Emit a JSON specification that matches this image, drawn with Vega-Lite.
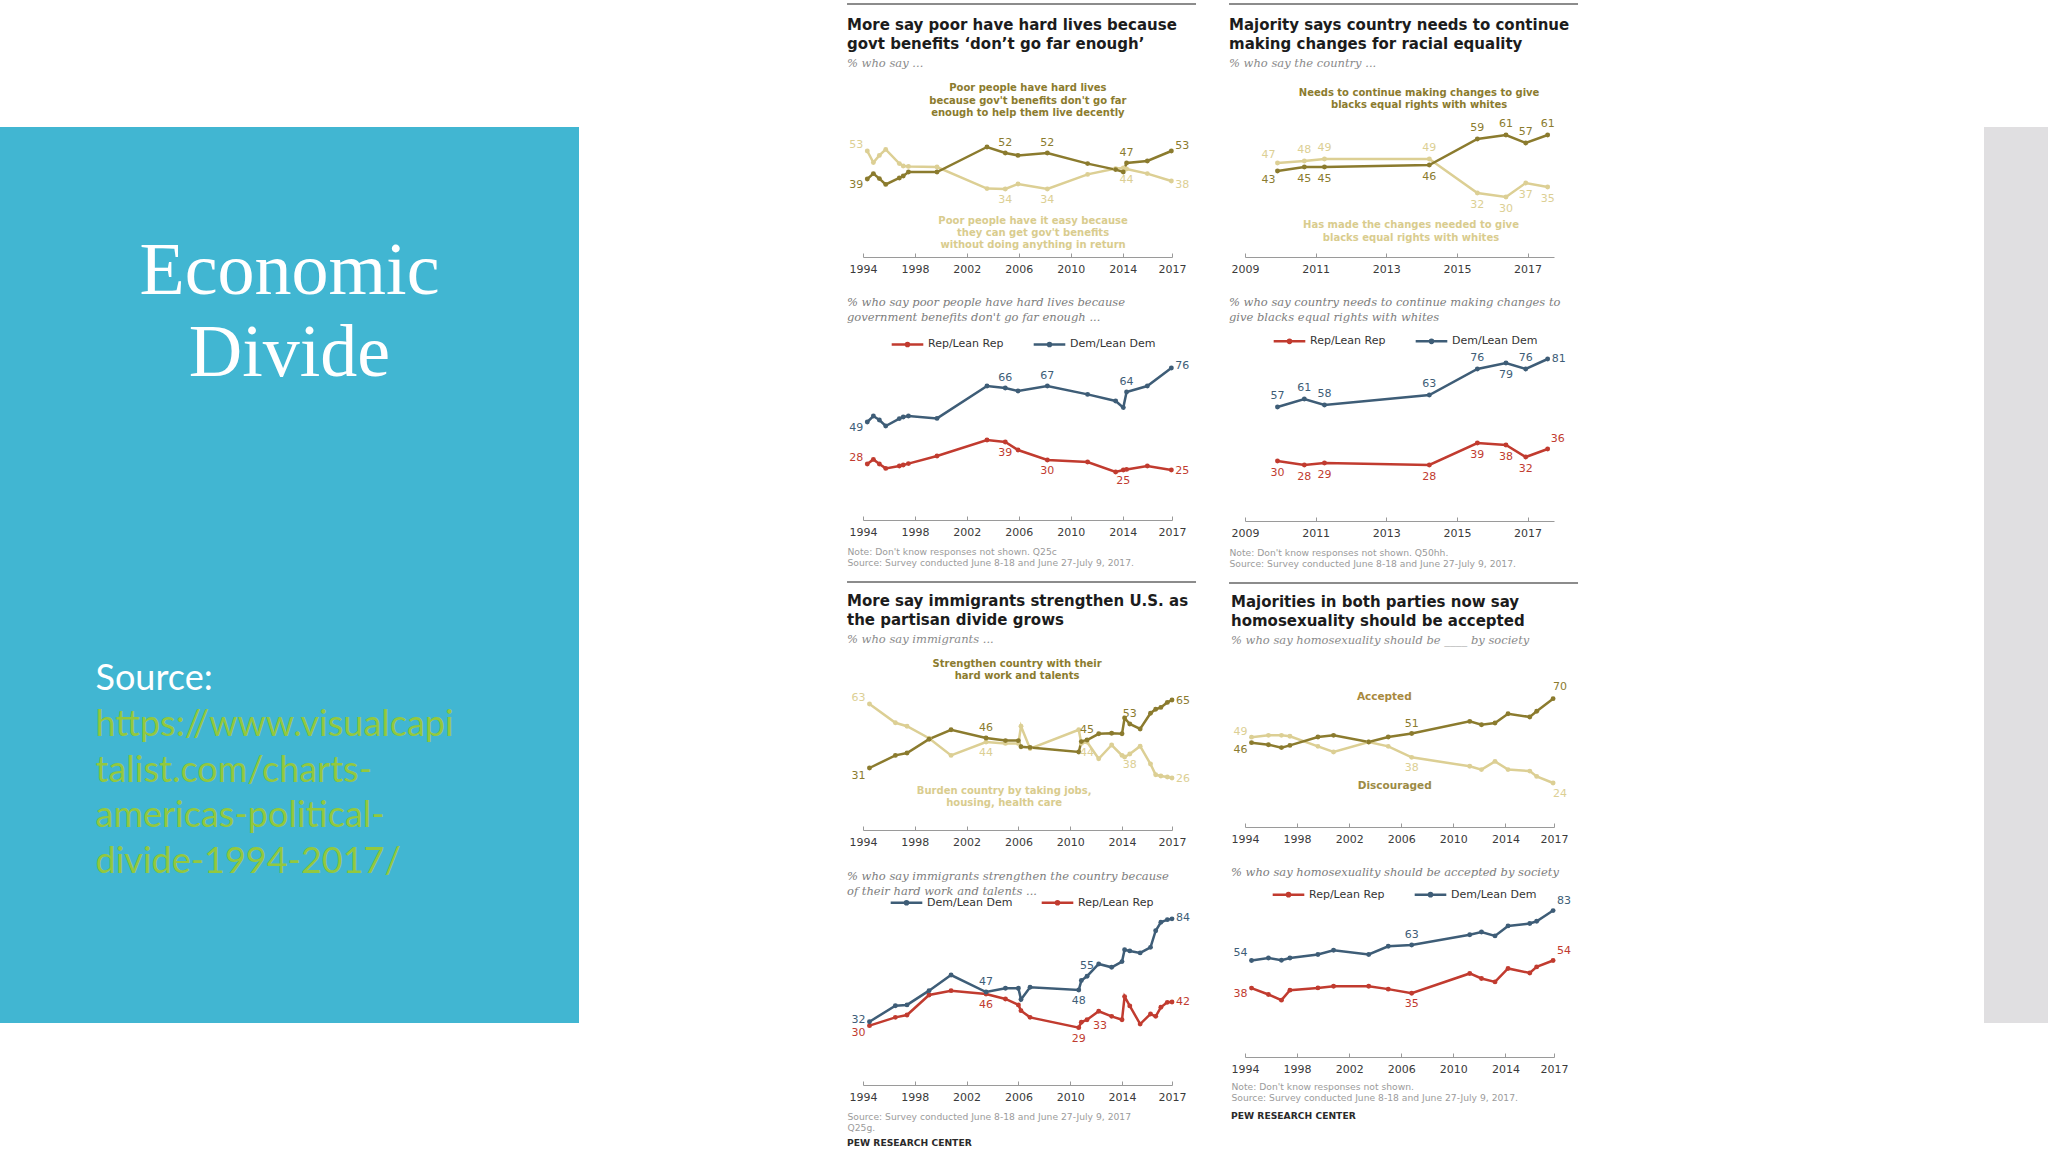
{
"$schema":"https://vega.github.io/schema/vega-lite/v6.json",
"background":"#ffffff",
"padding":0,
"config":{
 "view":{"stroke":null},
 "concat":{"spacing":0},
 "title":{"anchor":"start","frame":"group","dx":-16,"font":"DejaVu Sans","fontSize":15,"fontWeight":"bold","color":"#1c1c1c","lineHeight":18.8,"subtitleFont":"DejaVu Serif","subtitleFontStyle":"italic","subtitleFontSize":11.5,"subtitleColor":"#8a8a8a","subtitlePadding":5.7,"offset":8},
 "axis":{"domainColor":"#9a9a9a","domainWidth":1,"tickColor":"#9a9a9a","tickSize":-4,"tickWidth":1,"labelFont":"DejaVu Sans","labelFontSize":11,"labelColor":"#3a3a3a","labelPadding":10,"labelFlush":false,"labelOverlap":false,"grid":false,"titleFont":"DejaVu Sans","titleFontSize":9.2,"titleFontWeight":"normal","titleColor":"#9b9b9b","titleAnchor":"start","titleAlign":"left","titleBaseline":"top","titleLineHeight":11.3,"titleX":-16},
 "legend":{"symbolType":"M-1,0H1M-0.1,0A0.1,0.1,0,1,0,0.1,0A0.1,0.1,0,1,0,-0.1,0","symbolSize":1000,"symbolStrokeWidth":2.5,"labelFont":"DejaVu Sans","labelFontSize":11,"labelColor":"#333333","labelOffset":3,"columnPadding":24},
 "text":{"font":"DejaVu Sans","fontSize":11},
 "line":{"strokeWidth":2.5}
},
"datasets":{
 "one":[{"k":1}],
 "side":[{"part":"title","t":"Economic"},{"part":"title","t":"Divide"},{"part":"label","t":"Source:"},{"part":"link","t":"https://www.visualcapi"},{"part":"link","t":"talist.com/charts-"},{"part":"link","t":"americas-political-"},{"part":"link","t":"divide-1994-2017/"}],
 "poor":[
  {"year":1994.33,"s":"Easy","v":53,"lab":53},{"year":1994.8,"s":"Easy","v":47.2},{"year":1995.26,"s":"Easy","v":50.8},{"year":1995.75,"s":"Easy","v":53.8},{"year":1996.8,"s":"Easy","v":46.7},{"year":1997.1,"s":"Easy","v":45.5},{"year":1997.5,"s":"Easy","v":45.3},{"year":1999.7,"s":"Easy","v":45},{"year":2003.55,"s":"Easy","v":34.2},{"year":2004.96,"s":"Easy","v":34,"lab":34},{"year":2005.94,"s":"Easy","v":36.5},{"year":2008.2,"s":"Easy","v":34,"lab":34},{"year":2011.3,"s":"Easy","v":41.3},{"year":2013.46,"s":"Easy","v":44.2},{"year":2014.05,"s":"Easy","v":44.5},{"year":2014.3,"s":"Easy","v":44,"lab":44},{"year":2015.9,"s":"Easy","v":41.7},{"year":2017.75,"s":"Easy","v":38,"lab":38},
  {"year":1994.33,"s":"Hard","v":39,"lab":39},{"year":1994.8,"s":"Hard","v":41.7},{"year":1995.26,"s":"Hard","v":39.2},{"year":1995.75,"s":"Hard","v":36.3},{"year":1996.8,"s":"Hard","v":39.5},{"year":1997.1,"s":"Hard","v":40.5},{"year":1997.5,"s":"Hard","v":42.5},{"year":1999.7,"s":"Hard","v":42.5},{"year":2003.55,"s":"Hard","v":55},{"year":2004.96,"s":"Hard","v":52,"lab":52},{"year":2005.94,"s":"Hard","v":50.8},{"year":2008.2,"s":"Hard","v":52,"lab":52},{"year":2011.3,"s":"Hard","v":46.7},{"year":2013.46,"s":"Hard","v":43.7},{"year":2014.05,"s":"Hard","v":42.5},{"year":2014.3,"s":"Hard","v":47,"lab":47},{"year":2015.9,"s":"Hard","v":48},{"year":2017.75,"s":"Hard","v":53,"lab":53}
 ],
 "poorParty":[
  {"year":1994.33,"s":"Rep/Lean Rep","v":28,"lab":28},{"year":1994.8,"s":"Rep/Lean Rep","v":30.3},{"year":1995.26,"s":"Rep/Lean Rep","v":28},{"year":1995.75,"s":"Rep/Lean Rep","v":25.8},{"year":1996.8,"s":"Rep/Lean Rep","v":27},{"year":1997.1,"s":"Rep/Lean Rep","v":27.5},{"year":1997.5,"s":"Rep/Lean Rep","v":28.2},{"year":1999.7,"s":"Rep/Lean Rep","v":32},{"year":2003.55,"s":"Rep/Lean Rep","v":40},{"year":2004.96,"s":"Rep/Lean Rep","v":39,"lab":39},{"year":2005.94,"s":"Rep/Lean Rep","v":35},{"year":2008.2,"s":"Rep/Lean Rep","v":30,"lab":30},{"year":2011.3,"s":"Rep/Lean Rep","v":29},{"year":2013.46,"s":"Rep/Lean Rep","v":24},{"year":2014.05,"s":"Rep/Lean Rep","v":25,"lab":25},{"year":2014.3,"s":"Rep/Lean Rep","v":25.3},{"year":2015.9,"s":"Rep/Lean Rep","v":27},{"year":2017.75,"s":"Rep/Lean Rep","v":25,"lab":25},
  {"year":1994.33,"s":"Dem/Lean Dem","v":49,"lab":49},{"year":1994.8,"s":"Dem/Lean Dem","v":52},{"year":1995.26,"s":"Dem/Lean Dem","v":50},{"year":1995.75,"s":"Dem/Lean Dem","v":47},{"year":1996.8,"s":"Dem/Lean Dem","v":50.7},{"year":1997.1,"s":"Dem/Lean Dem","v":51.5},{"year":1997.5,"s":"Dem/Lean Dem","v":52},{"year":1999.7,"s":"Dem/Lean Dem","v":50.8},{"year":2003.55,"s":"Dem/Lean Dem","v":67},{"year":2004.96,"s":"Dem/Lean Dem","v":66,"lab":66},{"year":2005.94,"s":"Dem/Lean Dem","v":64.5},{"year":2008.2,"s":"Dem/Lean Dem","v":67,"lab":67},{"year":2011.3,"s":"Dem/Lean Dem","v":62.8},{"year":2013.46,"s":"Dem/Lean Dem","v":59.5},{"year":2014.05,"s":"Dem/Lean Dem","v":56.2},{"year":2014.3,"s":"Dem/Lean Dem","v":64,"lab":64},{"year":2015.9,"s":"Dem/Lean Dem","v":67},{"year":2017.75,"s":"Dem/Lean Dem","v":76,"lab":76}
 ],
 "race":[
  {"year":2009.92,"s":"Made","v":47,"lab":47},{"year":2010.68,"s":"Made","v":48,"lab":48},{"year":2011.25,"s":"Made","v":49,"lab":49},{"year":2014.22,"s":"Made","v":49,"lab":49},{"year":2015.58,"s":"Made","v":32,"lab":32},{"year":2016.39,"s":"Made","v":30,"lab":30},{"year":2016.95,"s":"Made","v":37,"lab":37},{"year":2017.57,"s":"Made","v":35,"lab":35},
  {"year":2009.92,"s":"Needs","v":43,"lab":43},{"year":2010.68,"s":"Needs","v":45,"lab":45},{"year":2011.25,"s":"Needs","v":45,"lab":45},{"year":2014.22,"s":"Needs","v":46,"lab":46},{"year":2015.58,"s":"Needs","v":59,"lab":59},{"year":2016.39,"s":"Needs","v":61,"lab":61},{"year":2016.95,"s":"Needs","v":57,"lab":57},{"year":2017.57,"s":"Needs","v":61,"lab":61}
 ],
 "raceParty":[
  {"year":2009.92,"s":"Rep/Lean Rep","v":30,"lab":30},{"year":2010.68,"s":"Rep/Lean Rep","v":28,"lab":28},{"year":2011.25,"s":"Rep/Lean Rep","v":29,"lab":29},{"year":2014.22,"s":"Rep/Lean Rep","v":28,"lab":28},{"year":2015.58,"s":"Rep/Lean Rep","v":39,"lab":39},{"year":2016.39,"s":"Rep/Lean Rep","v":38,"lab":38},{"year":2016.95,"s":"Rep/Lean Rep","v":32,"lab":32},{"year":2017.57,"s":"Rep/Lean Rep","v":36,"lab":36},
  {"year":2009.92,"s":"Dem/Lean Dem","v":57,"lab":57},{"year":2010.68,"s":"Dem/Lean Dem","v":61,"lab":61},{"year":2011.25,"s":"Dem/Lean Dem","v":58,"lab":58},{"year":2014.22,"s":"Dem/Lean Dem","v":63,"lab":63},{"year":2015.58,"s":"Dem/Lean Dem","v":76,"lab":76},{"year":2016.39,"s":"Dem/Lean Dem","v":79,"lab":79},{"year":2016.95,"s":"Dem/Lean Dem","v":76,"lab":76},{"year":2017.57,"s":"Dem/Lean Dem","v":81,"lab":81}
 ],
 "immig":[
  {"year":1994.5,"s":"Burden","v":63,"lab":63},{"year":1996.5,"s":"Burden","v":53.6},{"year":1997.4,"s":"Burden","v":51.9},{"year":1999.1,"s":"Burden","v":45.9},{"year":2000.8,"s":"Burden","v":37.3},{"year":2003.5,"s":"Burden","v":44,"lab":44},{"year":2005.0,"s":"Burden","v":43.3},{"year":2006.0,"s":"Burden","v":43.3},{"year":2006.2,"s":"Burden","v":51.9},{"year":2006.9,"s":"Burden","v":40.7},{"year":2010.66,"s":"Burden","v":50.1},{"year":2010.86,"s":"Burden","v":43.3},{"year":2011.3,"s":"Burden","v":44,"lab":44},{"year":2012.2,"s":"Burden","v":35.6},{"year":2013.2,"s":"Burden","v":42.5},{"year":2014.0,"s":"Burden","v":37.3},{"year":2014.2,"s":"Burden","v":36.5},{"year":2014.6,"s":"Burden","v":38,"lab":38},{"year":2015.4,"s":"Burden","v":41.9},{"year":2016.2,"s":"Burden","v":33},{"year":2016.6,"s":"Burden","v":27.6},{"year":2017.0,"s":"Burden","v":27},{"year":2017.5,"s":"Burden","v":26.5},{"year":2017.86,"s":"Burden","v":26,"lab":26},
  {"year":1994.5,"s":"Strengthen","v":31,"lab":31},{"year":1996.5,"s":"Strengthen","v":37.3},{"year":1997.4,"s":"Strengthen","v":38.5},{"year":1999.1,"s":"Strengthen","v":45.4},{"year":2000.8,"s":"Strengthen","v":50.1},{"year":2003.5,"s":"Strengthen","v":46,"lab":46},{"year":2005.0,"s":"Strengthen","v":44.7},{"year":2006.0,"s":"Strengthen","v":44.7},{"year":2006.2,"s":"Strengthen","v":41.6},{"year":2006.9,"s":"Strengthen","v":41.3},{"year":2010.66,"s":"Strengthen","v":39},{"year":2010.86,"s":"Strengthen","v":44.2},{"year":2011.3,"s":"Strengthen","v":45,"lab":45},{"year":2012.2,"s":"Strengthen","v":48.1},{"year":2013.2,"s":"Strengthen","v":48.4},{"year":2014.0,"s":"Strengthen","v":48.1},{"year":2014.2,"s":"Strengthen","v":56},{"year":2014.6,"s":"Strengthen","v":53,"lab":53},{"year":2015.4,"s":"Strengthen","v":50.5},{"year":2016.2,"s":"Strengthen","v":58.4},{"year":2016.6,"s":"Strengthen","v":60.4},{"year":2017.0,"s":"Strengthen","v":61.3},{"year":2017.5,"s":"Strengthen","v":63.8},{"year":2017.86,"s":"Strengthen","v":65,"lab":65}
 ],
 "immigParty":[
  {"year":1994.5,"s":"Rep/Lean Rep","v":30,"lab":30},{"year":1996.5,"s":"Rep/Lean Rep","v":34.2},{"year":1997.4,"s":"Rep/Lean Rep","v":35.4},{"year":1999.1,"s":"Rep/Lean Rep","v":45.5},{"year":2000.8,"s":"Rep/Lean Rep","v":47.7},{"year":2003.5,"s":"Rep/Lean Rep","v":46,"lab":46},{"year":2005.0,"s":"Rep/Lean Rep","v":43.5},{"year":2006.0,"s":"Rep/Lean Rep","v":40.5},{"year":2006.2,"s":"Rep/Lean Rep","v":37.6},{"year":2006.9,"s":"Rep/Lean Rep","v":34.2},{"year":2010.66,"s":"Rep/Lean Rep","v":29,"lab":29},{"year":2010.86,"s":"Rep/Lean Rep","v":31.7},{"year":2011.3,"s":"Rep/Lean Rep","v":33,"lab":33},{"year":2012.2,"s":"Rep/Lean Rep","v":37.3},{"year":2013.2,"s":"Rep/Lean Rep","v":34.7},{"year":2014.0,"s":"Rep/Lean Rep","v":33},{"year":2014.2,"s":"Rep/Lean Rep","v":44.7},{"year":2014.6,"s":"Rep/Lean Rep","v":40},{"year":2015.4,"s":"Rep/Lean Rep","v":30.8},{"year":2016.2,"s":"Rep/Lean Rep","v":35.9},{"year":2016.6,"s":"Rep/Lean Rep","v":34.7},{"year":2017.0,"s":"Rep/Lean Rep","v":39.3},{"year":2017.5,"s":"Rep/Lean Rep","v":41.8},{"year":2017.86,"s":"Rep/Lean Rep","v":42,"lab":42},
  {"year":1994.5,"s":"Dem/Lean Dem","v":32,"lab":32},{"year":1996.5,"s":"Dem/Lean Dem","v":40.1},{"year":1997.4,"s":"Dem/Lean Dem","v":40.5},{"year":1999.1,"s":"Dem/Lean Dem","v":47.7},{"year":2000.8,"s":"Dem/Lean Dem","v":55.6},{"year":2003.5,"s":"Dem/Lean Dem","v":47,"lab":47},{"year":2005.0,"s":"Dem/Lean Dem","v":48.9},{"year":2006.0,"s":"Dem/Lean Dem","v":48.9},{"year":2006.2,"s":"Dem/Lean Dem","v":43.2},{"year":2006.9,"s":"Dem/Lean Dem","v":49.4},{"year":2010.66,"s":"Dem/Lean Dem","v":48,"lab":48},{"year":2010.86,"s":"Dem/Lean Dem","v":52.8},{"year":2011.3,"s":"Dem/Lean Dem","v":55,"lab":55},{"year":2012.2,"s":"Dem/Lean Dem","v":61.2},{"year":2013.2,"s":"Dem/Lean Dem","v":59.5},{"year":2014.0,"s":"Dem/Lean Dem","v":62.4},{"year":2014.2,"s":"Dem/Lean Dem","v":68.4},{"year":2014.6,"s":"Dem/Lean Dem","v":67.8},{"year":2015.4,"s":"Dem/Lean Dem","v":66.8},{"year":2016.2,"s":"Dem/Lean Dem","v":69.6},{"year":2016.6,"s":"Dem/Lean Dem","v":78},{"year":2017.0,"s":"Dem/Lean Dem","v":82.3},{"year":2017.5,"s":"Dem/Lean Dem","v":83.6},{"year":2017.86,"s":"Dem/Lean Dem","v":84,"lab":84}
 ],
 "gay":[
  {"year":1994.5,"s":"Discouraged","v":49,"lab":49},{"year":1995.8,"s":"Discouraged","v":50},{"year":1996.8,"s":"Discouraged","v":50},{"year":1997.45,"s":"Discouraged","v":49.5},{"year":1999.6,"s":"Discouraged","v":44},{"year":2000.8,"s":"Discouraged","v":40.9},{"year":2003.5,"s":"Discouraged","v":46.4},{"year":2005.0,"s":"Discouraged","v":44},{"year":2006.8,"s":"Discouraged","v":38,"lab":38},{"year":2011.26,"s":"Discouraged","v":33.1},{"year":2012.16,"s":"Discouraged","v":31.3},{"year":2013.2,"s":"Discouraged","v":35.8},{"year":2014.2,"s":"Discouraged","v":31.3},{"year":2015.87,"s":"Discouraged","v":30.5},{"year":2016.4,"s":"Discouraged","v":27.6},{"year":2017.66,"s":"Discouraged","v":24,"lab":24},
  {"year":1994.5,"s":"Accepted","v":46,"lab":46},{"year":1995.8,"s":"Accepted","v":44.9},{"year":1996.8,"s":"Accepted","v":43.3},{"year":1997.45,"s":"Accepted","v":44.5},{"year":1999.6,"s":"Accepted","v":49.1},{"year":2000.8,"s":"Accepted","v":50},{"year":2003.5,"s":"Accepted","v":46.4},{"year":2005.0,"s":"Accepted","v":49.1},{"year":2006.8,"s":"Accepted","v":51,"lab":51},{"year":2011.26,"s":"Accepted","v":57.6},{"year":2012.16,"s":"Accepted","v":55.8},{"year":2013.2,"s":"Accepted","v":56.7},{"year":2014.2,"s":"Accepted","v":61.8},{"year":2015.87,"s":"Accepted","v":60},{"year":2016.4,"s":"Accepted","v":63.1},{"year":2017.66,"s":"Accepted","v":70,"lab":70}
 ],
 "gayParty":[
  {"year":1994.5,"s":"Rep/Lean Rep","v":38,"lab":38},{"year":1995.8,"s":"Rep/Lean Rep","v":34.3},{"year":1996.8,"s":"Rep/Lean Rep","v":31},{"year":1997.45,"s":"Rep/Lean Rep","v":36.8},{"year":1999.6,"s":"Rep/Lean Rep","v":38.1},{"year":2000.8,"s":"Rep/Lean Rep","v":39.1},{"year":2003.5,"s":"Rep/Lean Rep","v":39.1},{"year":2005.0,"s":"Rep/Lean Rep","v":37.4},{"year":2006.8,"s":"Rep/Lean Rep","v":35,"lab":35},{"year":2011.26,"s":"Rep/Lean Rep","v":46.5},{"year":2012.16,"s":"Rep/Lean Rep","v":43.6},{"year":2013.2,"s":"Rep/Lean Rep","v":41.6},{"year":2014.2,"s":"Rep/Lean Rep","v":49.4},{"year":2015.87,"s":"Rep/Lean Rep","v":46.8},{"year":2016.4,"s":"Rep/Lean Rep","v":50.3},{"year":2017.66,"s":"Rep/Lean Rep","v":54,"lab":54},
  {"year":1994.5,"s":"Dem/Lean Dem","v":54,"lab":54},{"year":1995.8,"s":"Dem/Lean Dem","v":55.5},{"year":1996.8,"s":"Dem/Lean Dem","v":54.2},{"year":1997.45,"s":"Dem/Lean Dem","v":55.5},{"year":1999.6,"s":"Dem/Lean Dem","v":57.5},{"year":2000.8,"s":"Dem/Lean Dem","v":60},{"year":2003.5,"s":"Dem/Lean Dem","v":57.5},{"year":2005.0,"s":"Dem/Lean Dem","v":62.3},{"year":2006.8,"s":"Dem/Lean Dem","v":63,"lab":63},{"year":2011.26,"s":"Dem/Lean Dem","v":69},{"year":2012.16,"s":"Dem/Lean Dem","v":70.6},{"year":2013.2,"s":"Dem/Lean Dem","v":68.3},{"year":2014.2,"s":"Dem/Lean Dem","v":74.1},{"year":2015.87,"s":"Dem/Lean Dem","v":75.5},{"year":2016.4,"s":"Dem/Lean Dem","v":76.8},{"year":2017.66,"s":"Dem/Lean Dem","v":83,"lab":83}
 ]
},
"spacing":0,
"resolve":{"scale":{"color":"independent"},"legend":{"color":"independent"}},
"hconcat":[
 {"spacing":0,"resolve":{"scale":{"color":"independent"},"legend":{"color":"independent"}},"vconcat":[
  {"width":579,"height":127,"data":{"name":"one"},"mark":{"type":"point","opacity":0,"size":1}},
  {"width":579,"height":896,"view":{"fill":"#41b6d2","stroke":null},"data":{"name":"side"},
   "layer":[
    {"transform":[{"filter":"datum.part == 'title'"}],"mark":{"type":"text","font":"Liberation Serif","fontSize":74,"color":"#ffffff","baseline":"alphabetic","align":"center"},
     "encoding":{"text":{"field":"t"},"y":{"field":"t","type":"nominal","sort":null,"scale":{"type":"point","range":[167,249],"padding":0},"axis":null}}},
    {"transform":[{"filter":"datum.part != 'title'"}],"mark":{"type":"text","font":"Lato","fontSize":36,"baseline":"alphabetic","align":"left","dx":-194},
     "encoding":{"text":{"field":"t"},"y":{"field":"t","type":"nominal","sort":null,"scale":{"type":"point","range":[563,746],"padding":0},"axis":null},
      "color":{"field":"part","type":"nominal","scale":{"domain":["label","link"],"range":["#ffffff","#93c83e"]},"legend":null}}}
   ],
   "resolve":{"scale":{"y":"independent"}}}
 ]},
 {"width":267,"height":10,"data":{"name":"one"},"mark":{"type":"point","opacity":0,"size":1}},
 {"spacing":0,"resolve":{"scale":{"color":"independent"},"legend":{"color":"independent"}},"vconcat":[
  {"width":1,"height":3,"data":{"name":"one"},"mark":{"type":"point","opacity":0,"size":1}},
  {"width":309,"height":14,"data":{"name":"one"},"mark":{"type":"rule","color":"#8c8c8c","strokeWidth":2},"encoding":{"x":{"datum":1992.77,"type":"quantitative","scale":{"domain":[1994,2017.8],"nice":false,"zero":false},"axis":null},"x2":{"datum":2019.65},"y":{"datum":1,"type":"quantitative","scale":{"domain":[0,1]},"axis":null}}},
  {"width":309,"height":180,
   "title":{"text":["More say poor have hard lives because","govt benefits ‘don’t go far enough’"],"subtitle":"% who say ...","offset":8},
   "data":{"name":"poor"},
   "transform":[{"joinaggregate":[{"op":"max","field":"v","as":"vmax"}],"groupby":["year"]},{"joinaggregate":[{"op":"min","field":"year","as":"y0"},{"op":"max","field":"year","as":"y1"}]}],
   "encoding":{"x":{"field":"year","type":"quantitative","scale":{"domain":[1994,2017.8],"nice":false,"zero":false},"axis":{"values":[1994,1998,2002,2006,2010,2014,2017.8],"labelExpr":"'' + floor(datum.value)","title":null}},
    "y":{"field":"v","type":"quantitative","scale":{"domain":[0,90],"nice":false},"axis":null}},
   "layer":[
    {"mark":{"type":"line","strokeWidth":2.5,"point":{"filled":true,"size":24}},"encoding":{"color":{"field":"s","type":"nominal","scale":{"domain":["Easy","Hard"],"range":["#dccf94","#8b7b2e"]},"legend":null}}},
    {"transform":[{"filter":"isValid(datum.lab) && datum.year > datum.y0 && datum.year < datum.y1 && datum.v >= datum.vmax"}],"mark":{"type":"text","dy":-10},"encoding":{"text":{"field":"lab"},"color":{"field":"s","type":"nominal","legend":null}}},
    {"transform":[{"filter":"isValid(datum.lab) && datum.year > datum.y0 && datum.year < datum.y1 && datum.v < datum.vmax"}],"mark":{"type":"text","dy":11},"encoding":{"text":{"field":"lab"},"color":{"field":"s","type":"nominal","legend":null}}},
    {"transform":[{"filter":"isValid(datum.lab) && datum.year == datum.y0 && datum.v >= datum.vmax"}],"mark":{"type":"text","align":"right","dx":-4,"dy":-6},"encoding":{"text":{"field":"lab"},"color":{"field":"s","type":"nominal","legend":null}}},
    {"transform":[{"filter":"isValid(datum.lab) && datum.year == datum.y0 && datum.v < datum.vmax"}],"mark":{"type":"text","align":"right","dx":-4,"dy":6},"encoding":{"text":{"field":"lab"},"color":{"field":"s","type":"nominal","legend":null}}},
    {"transform":[{"filter":"isValid(datum.lab) && datum.year == datum.y1 && datum.v >= datum.vmax"}],"mark":{"type":"text","align":"left","dx":4,"dy":-5},"encoding":{"text":{"field":"lab"},"color":{"field":"s","type":"nominal","legend":null}}},
    {"transform":[{"filter":"isValid(datum.lab) && datum.year == datum.y1 && datum.v < datum.vmax"}],"mark":{"type":"text","align":"left","dx":4,"dy":4},"encoding":{"text":{"field":"lab"},"color":{"field":"s","type":"nominal","legend":null}}},
    {"transform":[{"filter":"datum.year == datum.y0 && datum.v >= datum.vmax"}],"mark":{"type":"text","text":["Poor people have hard lives","because gov't benefits don't go far","enough to help them live decently"],"fontSize":10,"fontWeight":"bold","lineHeight":12.5,"color":"#8b7b2e"},"encoding":{"x":{"datum":2006.7,"type":"quantitative"},"y":{"datum":84.5,"type":"quantitative"}}},
    {"transform":[{"filter":"datum.year == datum.y0 && datum.v >= datum.vmax"}],"mark":{"type":"text","text":["Poor people have it easy because","they can get gov't benefits","without doing anything in return"],"fontSize":10,"fontWeight":"bold","lineHeight":12,"color":"#d9cc8e"},"encoding":{"x":{"datum":2007.1,"type":"quantitative"},"y":{"datum":18,"type":"quantitative"}}}
   ]},
  {"width":1,"height":23,"data":{"name":"one"},"mark":{"type":"point","opacity":0,"size":1}},
  {"width":309,"height":168,
   "title":{"text":["% who say poor people have hard lives because","government benefits don't go far enough ..."],"font":"DejaVu Serif","fontStyle":"italic","fontWeight":"normal","fontSize":11.5,"color":"#7d7d7d","lineHeight":15,"offset":2.7},
   "data":{"name":"poorParty"},
   "transform":[{"joinaggregate":[{"op":"max","field":"v","as":"vmax"}],"groupby":["year"]},{"joinaggregate":[{"op":"min","field":"year","as":"y0"},{"op":"max","field":"year","as":"y1"}]}],
   "encoding":{"x":{"field":"year","type":"quantitative","scale":{"domain":[1994,2017.8],"nice":false,"zero":false},"axis":{"values":[1994,1998,2002,2006,2010,2014,2017.8],"labelExpr":"'' + floor(datum.value)","title":["Note: Don't know responses not shown. Q25c","Source: Survey conducted June 8-18 and June 27-July 9, 2017."],"titleY":27}},
    "y":{"field":"v","type":"quantitative","scale":{"domain":[0,84],"nice":false},"axis":null}},
   "layer":[
    {"mark":{"type":"line","strokeWidth":2.5,"point":{"filled":true,"size":24}},"encoding":{"color":{"field":"s","type":"nominal","scale":{"domain":["Rep/Lean Rep","Dem/Lean Dem"],"range":["#c13b2f","#3e5d77"]},"legend":{"orient":"none","legendX":27,"legendY":-25.5,"direction":"horizontal","title":null}}}},
    {"transform":[{"filter":"isValid(datum.lab) && datum.year > datum.y0 && datum.year < datum.y1 && datum.v >= datum.vmax"}],"mark":{"type":"text","dy":-10},"encoding":{"text":{"field":"lab"},"color":{"field":"s","type":"nominal","legend":null}}},
    {"transform":[{"filter":"isValid(datum.lab) && datum.year > datum.y0 && datum.year < datum.y1 && datum.v < datum.vmax"}],"mark":{"type":"text","dy":11},"encoding":{"text":{"field":"lab"},"color":{"field":"s","type":"nominal","legend":null}}},
    {"transform":[{"filter":"isValid(datum.lab) && datum.year == datum.y0 && datum.v >= datum.vmax"}],"mark":{"type":"text","align":"right","dx":-4,"dy":6},"encoding":{"text":{"field":"lab"},"color":{"field":"s","type":"nominal","legend":null}}},
    {"transform":[{"filter":"isValid(datum.lab) && datum.year == datum.y0 && datum.v < datum.vmax"}],"mark":{"type":"text","align":"right","dx":-4,"dy":-6},"encoding":{"text":{"field":"lab"},"color":{"field":"s","type":"nominal","legend":null}}},
    {"transform":[{"filter":"isValid(datum.lab) && datum.year == datum.y1 && datum.v >= datum.vmax"}],"mark":{"type":"text","align":"left","dx":4,"dy":-2},"encoding":{"text":{"field":"lab"},"color":{"field":"s","type":"nominal","legend":null}}},
    {"transform":[{"filter":"isValid(datum.lab) && datum.year == datum.y1 && datum.v < datum.vmax"}],"mark":{"type":"text","align":"left","dx":4,"dy":1},"encoding":{"text":{"field":"lab"},"color":{"field":"s","type":"nominal","legend":null}}}
   ]},
  {"width":1,"height":13,"data":{"name":"one"},"mark":{"type":"point","opacity":0,"size":1}},
  {"width":309,"height":12,"data":{"name":"one"},"mark":{"type":"rule","color":"#8c8c8c","strokeWidth":2},"encoding":{"x":{"datum":1992.77,"type":"quantitative","scale":{"domain":[1994,2017.8],"nice":false,"zero":false},"axis":null},"x2":{"datum":2019.65},"y":{"datum":1,"type":"quantitative","scale":{"domain":[0,1]},"axis":null}}},
  {"width":309,"height":172,
   "title":{"text":["More say immigrants strengthen U.S. as","the partisan divide grows"],"subtitle":"% who say immigrants ...","offset":13},
   "data":{"name":"immig"},
   "transform":[{"joinaggregate":[{"op":"max","field":"v","as":"vmax"}],"groupby":["year"]},{"joinaggregate":[{"op":"min","field":"year","as":"y0"},{"op":"max","field":"year","as":"y1"}]}],
   "encoding":{"x":{"field":"year","type":"quantitative","scale":{"domain":[1994,2017.86],"nice":false,"zero":false},"axis":{"values":[1994,1998,2002,2006,2010,2014,2017.86],"labelExpr":"'' + floor(datum.value)","title":null}},
    "y":{"field":"v","type":"quantitative","scale":{"domain":[0,86],"nice":false},"axis":null}},
   "layer":[
    {"mark":{"type":"line","strokeWidth":2.5,"point":{"filled":true,"size":24}},"encoding":{"color":{"field":"s","type":"nominal","scale":{"domain":["Burden","Strengthen"],"range":["#dccf94","#8b7b2e"]},"legend":null}}},
    {"transform":[{"filter":"isValid(datum.lab) && datum.year > datum.y0 && datum.year < datum.y1 && datum.v >= datum.vmax"}],"mark":{"type":"text","dy":-10},"encoding":{"text":{"field":"lab"},"color":{"field":"s","type":"nominal","legend":null}}},
    {"transform":[{"filter":"isValid(datum.lab) && datum.year > datum.y0 && datum.year < datum.y1 && datum.v < datum.vmax"}],"mark":{"type":"text","dy":11},"encoding":{"text":{"field":"lab"},"color":{"field":"s","type":"nominal","legend":null}}},
    {"transform":[{"filter":"isValid(datum.lab) && datum.year == datum.y0 && datum.v >= datum.vmax"}],"mark":{"type":"text","align":"right","dx":-4,"dy":-6},"encoding":{"text":{"field":"lab"},"color":{"field":"s","type":"nominal","legend":null}}},
    {"transform":[{"filter":"isValid(datum.lab) && datum.year == datum.y0 && datum.v < datum.vmax"}],"mark":{"type":"text","align":"right","dx":-4,"dy":8},"encoding":{"text":{"field":"lab"},"color":{"field":"s","type":"nominal","legend":null}}},
    {"transform":[{"filter":"isValid(datum.lab) && datum.year == datum.y1 && datum.v >= datum.vmax"}],"mark":{"type":"text","align":"left","dx":4,"dy":1},"encoding":{"text":{"field":"lab"},"color":{"field":"s","type":"nominal","legend":null}}},
    {"transform":[{"filter":"isValid(datum.lab) && datum.year == datum.y1 && datum.v < datum.vmax"}],"mark":{"type":"text","align":"left","dx":4,"dy":1},"encoding":{"text":{"field":"lab"},"color":{"field":"s","type":"nominal","legend":null}}},
    {"transform":[{"filter":"datum.year == datum.y0 && datum.v >= datum.vmax"}],"mark":{"type":"text","text":["Strengthen country with their","hard work and talents"],"fontSize":10,"fontWeight":"bold","lineHeight":12,"color":"#8b7b2e"},"encoding":{"x":{"datum":2005.9,"type":"quantitative"},"y":{"datum":83.2,"type":"quantitative"}}},
    {"transform":[{"filter":"datum.year == datum.y0 && datum.v >= datum.vmax"}],"mark":{"type":"text","text":["Burden country by taking jobs,","housing, health care"],"fontSize":10,"fontWeight":"bold","lineHeight":12,"color":"#d9cc8e"},"encoding":{"x":{"datum":2004.9,"type":"quantitative"},"y":{"datum":19.3,"type":"quantitative"}}}
   ]},
  {"width":1,"height":23,"data":{"name":"one"},"mark":{"type":"point","opacity":0,"size":1}},
  {"width":309,"height":178,
   "title":{"text":["% who say immigrants strengthen the country because","of their hard work and talents ..."],"font":"DejaVu Serif","fontStyle":"italic","fontWeight":"normal","fontSize":11.5,"color":"#7d7d7d","lineHeight":15,"offset":-12.2},
   "data":{"name":"immigParty"},
   "transform":[{"joinaggregate":[{"op":"max","field":"v","as":"vmax"}],"groupby":["year"]},{"joinaggregate":[{"op":"min","field":"year","as":"y0"},{"op":"max","field":"year","as":"y1"}]}],
   "encoding":{"x":{"field":"year","type":"quantitative","scale":{"domain":[1994,2017.86],"nice":false,"zero":false},"axis":{"values":[1994,1998,2002,2006,2010,2014,2017.86],"labelExpr":"'' + floor(datum.value)","title":["Source: Survey conducted June 8-18 and June 27-July 9, 2017","Q25g."],"titleY":27}},
    "y":{"field":"v","type":"quantitative","scale":{"domain":[0,90],"nice":false},"axis":null}},
   "layer":[
    {"mark":{"type":"line","strokeWidth":2.5,"point":{"filled":true,"size":24}},"encoding":{"color":{"field":"s","type":"nominal","scale":{"domain":["Dem/Lean Dem","Rep/Lean Rep"],"range":["#3e5d77","#c13b2f"]},"legend":{"orient":"none","legendX":26,"legendY":-22.2,"direction":"horizontal","title":null,"columnPadding":23}}}},
    {"transform":[{"filter":"isValid(datum.lab) && datum.year > datum.y0 && datum.year < datum.y1 && datum.v >= datum.vmax && datum.lab != 48"}],"mark":{"type":"text","dy":-10},"encoding":{"text":{"field":"lab"},"color":{"field":"s","type":"nominal","legend":null}}},
    {"transform":[{"filter":"isValid(datum.lab) && datum.year > datum.y0 && datum.year < datum.y1 && (datum.v < datum.vmax || datum.lab == 48) && datum.lab != 33"}],"mark":{"type":"text","dy":11},"encoding":{"text":{"field":"lab"},"color":{"field":"s","type":"nominal","legend":null}}},
    {"transform":[{"filter":"isValid(datum.lab) && datum.lab == 33"}],"mark":{"type":"text","align":"left","dx":6,"dy":6},"encoding":{"text":{"field":"lab"},"color":{"field":"s","type":"nominal","legend":null}}},
    {"transform":[{"filter":"isValid(datum.lab) && datum.year == datum.y0 && datum.v >= datum.vmax"}],"mark":{"type":"text","align":"right","dx":-4,"dy":-2},"encoding":{"text":{"field":"lab"},"color":{"field":"s","type":"nominal","legend":null}}},
    {"transform":[{"filter":"isValid(datum.lab) && datum.year == datum.y0 && datum.v < datum.vmax"}],"mark":{"type":"text","align":"right","dx":-4,"dy":7},"encoding":{"text":{"field":"lab"},"color":{"field":"s","type":"nominal","legend":null}}},
    {"transform":[{"filter":"isValid(datum.lab) && datum.year == datum.y1 && datum.v >= datum.vmax"}],"mark":{"type":"text","align":"left","dx":4,"dy":-1},"encoding":{"text":{"field":"lab"},"color":{"field":"s","type":"nominal","legend":null}}},
    {"transform":[{"filter":"isValid(datum.lab) && datum.year == datum.y1 && datum.v < datum.vmax"}],"mark":{"type":"text","align":"left","dx":4,"dy":0},"encoding":{"text":{"field":"lab"},"color":{"field":"s","type":"nominal","legend":null}}}
   ]},
  {"width":1,"height":5,"data":{"name":"one"},"mark":{"type":"point","opacity":0,"size":1}},
  {"width":309,"height":1,"title":{"text":"PEW RESEARCH CENTER","font":"DejaVu Sans","fontSize":9.2,"fontWeight":"bold","color":"#2a2a2a","offset":0},"data":{"name":"one"},"mark":{"type":"point","opacity":0,"size":1}}
 ]},
 {"width":30,"height":10,"data":{"name":"one"},"mark":{"type":"point","opacity":0,"size":1}},
 {"spacing":0,"resolve":{"scale":{"color":"independent"},"legend":{"color":"independent"}},"vconcat":[
  {"width":1,"height":3,"data":{"name":"one"},"mark":{"type":"point","opacity":0,"size":1}},
  {"width":309,"height":14,"data":{"name":"one"},"mark":{"type":"rule","color":"#8c8c8c","strokeWidth":2},"encoding":{"x":{"datum":1992.77,"type":"quantitative","scale":{"domain":[1994,2017.8],"nice":false,"zero":false},"axis":null},"x2":{"datum":2019.65},"y":{"datum":1,"type":"quantitative","scale":{"domain":[0,1]},"axis":null}}},
  {"width":309,"height":180,
   "title":{"text":["Majority says country needs to continue","making changes for racial equality"],"subtitle":"% who say the country ...","offset":8},
   "data":{"name":"race"},
   "transform":[{"joinaggregate":[{"op":"max","field":"v","as":"vmax"}],"groupby":["year"]},{"joinaggregate":[{"op":"min","field":"year","as":"y0"},{"op":"max","field":"year","as":"y1"}]}],
   "encoding":{"x":{"field":"year","type":"quantitative","scale":{"domain":[2009,2017.75],"nice":false,"zero":false},"axis":{"values":[2009,2011,2013,2015,2017],"format":"d","title":null}},
    "y":{"field":"v","type":"quantitative","scale":{"domain":[0,90],"nice":false},"axis":null}},
   "layer":[
    {"mark":{"type":"line","strokeWidth":2.5,"point":{"filled":true,"size":24}},"encoding":{"color":{"field":"s","type":"nominal","scale":{"domain":["Made","Needs"],"range":["#dccf94","#8b7b2e"]},"legend":null}}},
    {"transform":[{"filter":"isValid(datum.lab) && datum.year > datum.y0 && datum.v >= datum.vmax"}],"mark":{"type":"text","dy":-11},"encoding":{"text":{"field":"lab"},"color":{"field":"s","type":"nominal","legend":null}}},
    {"transform":[{"filter":"isValid(datum.lab) && datum.year > datum.y0 && datum.v < datum.vmax"}],"mark":{"type":"text","dy":12},"encoding":{"text":{"field":"lab"},"color":{"field":"s","type":"nominal","legend":null}}},
    {"transform":[{"filter":"isValid(datum.lab) && datum.year == datum.y0 && datum.v >= datum.vmax"}],"mark":{"type":"text","align":"right","dx":-2,"dy":-8},"encoding":{"text":{"field":"lab"},"color":{"field":"s","type":"nominal","legend":null}}},
    {"transform":[{"filter":"isValid(datum.lab) && datum.year == datum.y0 && datum.v < datum.vmax"}],"mark":{"type":"text","align":"right","dx":-2,"dy":9},"encoding":{"text":{"field":"lab"},"color":{"field":"s","type":"nominal","legend":null}}},
    {"transform":[{"filter":"datum.year == datum.y0 && datum.v >= datum.vmax"}],"mark":{"type":"text","text":["Needs to continue making changes to give","blacks equal rights with whites"],"fontSize":10,"fontWeight":"bold","lineHeight":12.5,"color":"#8b7b2e"},"encoding":{"x":{"datum":2013.93,"type":"quantitative"},"y":{"datum":82.2,"type":"quantitative"}}},
    {"transform":[{"filter":"datum.year == datum.y0 && datum.v >= datum.vmax"}],"mark":{"type":"text","text":["Has made the changes needed to give","blacks equal rights with whites"],"fontSize":10,"fontWeight":"bold","lineHeight":12.5,"color":"#d9cc8e"},"encoding":{"x":{"datum":2013.7,"type":"quantitative"},"y":{"datum":16,"type":"quantitative"}}}
   ]},
  {"width":1,"height":23,"data":{"name":"one"},"mark":{"type":"point","opacity":0,"size":1}},
  {"width":309,"height":168,
   "title":{"text":["% who say country needs to continue making changes to","give blacks equal rights with whites"],"font":"DejaVu Serif","fontStyle":"italic","fontWeight":"normal","fontSize":11.5,"color":"#7d7d7d","lineHeight":15,"offset":-0.3},
   "data":{"name":"raceParty"},
   "transform":[{"joinaggregate":[{"op":"max","field":"v","as":"vmax"}],"groupby":["year"]},{"joinaggregate":[{"op":"min","field":"year","as":"y0"},{"op":"max","field":"year","as":"y1"}]}],
   "encoding":{"x":{"field":"year","type":"quantitative","scale":{"domain":[2009,2017.75],"nice":false,"zero":false},"axis":{"values":[2009,2011,2013,2015,2017],"format":"d","title":["Note: Don't know responses not shown. Q50hh.","Source: Survey conducted June 8-18 and June 27-July 9, 2017."],"titleY":27}},
    "y":{"field":"v","type":"quantitative","scale":{"domain":[0,84],"nice":false},"axis":null}},
   "layer":[
    {"mark":{"type":"line","strokeWidth":2.5,"point":{"filled":true,"size":24}},"encoding":{"color":{"field":"s","type":"nominal","scale":{"domain":["Rep/Lean Rep","Dem/Lean Dem"],"range":["#c13b2f","#3e5d77"]},"legend":{"orient":"none","legendX":27,"legendY":-29.6,"direction":"horizontal","title":null}}}},
    {"transform":[{"filter":"isValid(datum.lab) && datum.year < datum.y1 && datum.v >= datum.vmax && datum.lab != 79"}],"mark":{"type":"text","dy":-11},"encoding":{"text":{"field":"lab"},"color":{"field":"s","type":"nominal","legend":null}}},
    {"transform":[{"filter":"isValid(datum.lab) && datum.year < datum.y1 && (datum.v < datum.vmax || datum.lab == 79)"}],"mark":{"type":"text","dy":12},"encoding":{"text":{"field":"lab"},"color":{"field":"s","type":"nominal","legend":null}}},
    {"transform":[{"filter":"isValid(datum.lab) && datum.year == datum.y1 && datum.v >= datum.vmax"}],"mark":{"type":"text","align":"left","dx":4,"dy":0},"encoding":{"text":{"field":"lab"},"color":{"field":"s","type":"nominal","legend":null}}},
    {"transform":[{"filter":"isValid(datum.lab) && datum.year == datum.y1 && datum.v < datum.vmax"}],"mark":{"type":"text","align":"left","dx":3,"dy":-10},"encoding":{"text":{"field":"lab"},"color":{"field":"s","type":"nominal","legend":null}}}
   ]},
  {"width":1,"height":13,"data":{"name":"one"},"mark":{"type":"point","opacity":0,"size":1}},
  {"width":309,"height":12,"data":{"name":"one"},"mark":{"type":"rule","color":"#8c8c8c","strokeWidth":2},"encoding":{"x":{"datum":1992.77,"type":"quantitative","scale":{"domain":[1994,2017.8],"nice":false,"zero":false},"axis":null},"x2":{"datum":2019.65},"y":{"datum":1,"type":"quantitative","scale":{"domain":[0,1]},"axis":null}}},
  {"width":309,"height":165,
   "title":{"text":["Majorities in both parties now say","homosexuality should be accepted"],"subtitle":"% who say homosexuality should be ____ by society","offset":16,"dx":-14},
   "data":{"name":"gay"},
   "transform":[{"joinaggregate":[{"op":"max","field":"v","as":"vmax"}],"groupby":["year"]},{"joinaggregate":[{"op":"min","field":"year","as":"y0"},{"op":"max","field":"year","as":"y1"}]}],
   "encoding":{"x":{"field":"year","type":"quantitative","scale":{"domain":[1994,2017.73],"nice":false,"zero":false},"axis":{"values":[1994,1998,2002,2006,2010,2014,2017.73],"labelExpr":"'' + floor(datum.value)","title":null}},
    "y":{"field":"v","type":"quantitative","scale":{"domain":[0,90],"nice":false},"axis":null}},
   "layer":[
    {"mark":{"type":"line","strokeWidth":2.5,"point":{"filled":true,"size":24}},"encoding":{"color":{"field":"s","type":"nominal","scale":{"domain":["Discouraged","Accepted"],"range":["#dccf94","#8b7b2e"]},"legend":null}}},
    {"transform":[{"filter":"isValid(datum.lab) && datum.year > datum.y0 && datum.year < datum.y1 && datum.v >= datum.vmax"}],"mark":{"type":"text","dy":-10},"encoding":{"text":{"field":"lab"},"color":{"field":"s","type":"nominal","legend":null}}},
    {"transform":[{"filter":"isValid(datum.lab) && datum.year > datum.y0 && datum.year < datum.y1 && datum.v < datum.vmax"}],"mark":{"type":"text","dy":11},"encoding":{"text":{"field":"lab"},"color":{"field":"s","type":"nominal","legend":null}}},
    {"transform":[{"filter":"isValid(datum.lab) && datum.year == datum.y0 && datum.v >= datum.vmax"}],"mark":{"type":"text","align":"right","dx":-4,"dy":-5},"encoding":{"text":{"field":"lab"},"color":{"field":"s","type":"nominal","legend":null}}},
    {"transform":[{"filter":"isValid(datum.lab) && datum.year == datum.y0 && datum.v < datum.vmax"}],"mark":{"type":"text","align":"right","dx":-4,"dy":7},"encoding":{"text":{"field":"lab"},"color":{"field":"s","type":"nominal","legend":null}}},
    {"transform":[{"filter":"isValid(datum.lab) && datum.year == datum.y1 && datum.v >= datum.vmax"}],"mark":{"type":"text","align":"left","dx":0,"dy":-12},"encoding":{"text":{"field":"lab"},"color":{"field":"s","type":"nominal","legend":null}}},
    {"transform":[{"filter":"isValid(datum.lab) && datum.year == datum.y1 && datum.v < datum.vmax"}],"mark":{"type":"text","align":"left","dx":0,"dy":11},"encoding":{"text":{"field":"lab"},"color":{"field":"s","type":"nominal","legend":null}}},
    {"transform":[{"filter":"datum.year == datum.y0 && datum.v >= datum.vmax"}],"mark":{"type":"text","text":"Accepted","fontSize":10.5,"fontWeight":"bold","color":"#a8893e"},"encoding":{"x":{"datum":2004.7,"type":"quantitative"},"y":{"datum":70.9,"type":"quantitative"}}},
    {"transform":[{"filter":"datum.year == datum.y0 && datum.v >= datum.vmax"}],"mark":{"type":"text","text":"Discouraged","fontSize":10.5,"fontWeight":"bold","color":"#9c8b45"},"encoding":{"x":{"datum":2005.5,"type":"quantitative"},"y":{"datum":22.2,"type":"quantitative"}}}
   ]},
  {"width":1,"height":22,"data":{"name":"one"},"mark":{"type":"point","opacity":0,"size":1}},
  {"width":309,"height":159,
   "title":{"text":"% who say homosexuality should be accepted by society","font":"DejaVu Serif","fontStyle":"italic","fontWeight":"normal","fontSize":11.5,"color":"#7d7d7d","lineHeight":15,"offset":-1.3,"dx":-14},
   "data":{"name":"gayParty"},
   "transform":[{"joinaggregate":[{"op":"max","field":"v","as":"vmax"}],"groupby":["year"]},{"joinaggregate":[{"op":"min","field":"year","as":"y0"},{"op":"max","field":"year","as":"y1"}]}],
   "encoding":{"x":{"field":"year","type":"quantitative","scale":{"domain":[1994,2017.73],"nice":false,"zero":false},"axis":{"values":[1994,1998,2002,2006,2010,2014,2017.73],"labelExpr":"'' + floor(datum.value)","title":["Note: Don't know responses not shown.","Source: Survey conducted June 8-18 and June 27-July 9, 2017."],"titleY":25.5,"titleX":-14}},
    "y":{"field":"v","type":"quantitative","scale":{"domain":[-2,90.3],"nice":false},"axis":null}},
   "layer":[
    {"mark":{"type":"line","strokeWidth":2.5,"point":{"filled":true,"size":24}},"encoding":{"color":{"field":"s","type":"nominal","scale":{"domain":["Rep/Lean Rep","Dem/Lean Dem"],"range":["#c13b2f","#3e5d77"]},"legend":{"orient":"none","legendX":26,"legendY":-21.3,"direction":"horizontal","title":null}}}},
    {"transform":[{"filter":"isValid(datum.lab) && datum.year > datum.y0 && datum.year < datum.y1 && datum.v >= datum.vmax"}],"mark":{"type":"text","dy":-10},"encoding":{"text":{"field":"lab"},"color":{"field":"s","type":"nominal","legend":null}}},
    {"transform":[{"filter":"isValid(datum.lab) && datum.year > datum.y0 && datum.year < datum.y1 && datum.v < datum.vmax"}],"mark":{"type":"text","dy":11},"encoding":{"text":{"field":"lab"},"color":{"field":"s","type":"nominal","legend":null}}},
    {"transform":[{"filter":"isValid(datum.lab) && datum.year == datum.y0 && datum.v >= datum.vmax"}],"mark":{"type":"text","align":"right","dx":-4,"dy":-8},"encoding":{"text":{"field":"lab"},"color":{"field":"s","type":"nominal","legend":null}}},
    {"transform":[{"filter":"isValid(datum.lab) && datum.year == datum.y0 && datum.v < datum.vmax"}],"mark":{"type":"text","align":"right","dx":-4,"dy":6},"encoding":{"text":{"field":"lab"},"color":{"field":"s","type":"nominal","legend":null}}},
    {"transform":[{"filter":"isValid(datum.lab) && datum.year == datum.y1"}],"mark":{"type":"text","align":"left","dx":4,"dy":-10},"encoding":{"text":{"field":"lab"},"color":{"field":"s","type":"nominal","legend":null}}}
   ]},
  {"width":1,"height":8,"data":{"name":"one"},"mark":{"type":"point","opacity":0,"size":1}},
  {"width":309,"height":1,"title":{"text":"PEW RESEARCH CENTER","font":"DejaVu Sans","fontSize":9.2,"fontWeight":"bold","color":"#2a2a2a","offset":0,"dx":-14},"data":{"name":"one"},"mark":{"type":"point","opacity":0,"size":1}}
 ]},
 {"width":404,"height":10,"data":{"name":"one"},"mark":{"type":"point","opacity":0,"size":1}},
 {"spacing":0,"resolve":{"scale":{"color":"independent"},"legend":{"color":"independent"}},"vconcat":[
  {"width":64,"height":127,"data":{"name":"one"},"mark":{"type":"point","opacity":0,"size":1}},
  {"width":64,"height":896,"view":{"fill":"#e0dfe1","stroke":null},"data":{"name":"one"},"mark":{"type":"point","opacity":0,"size":1}}
 ]}
]
}
